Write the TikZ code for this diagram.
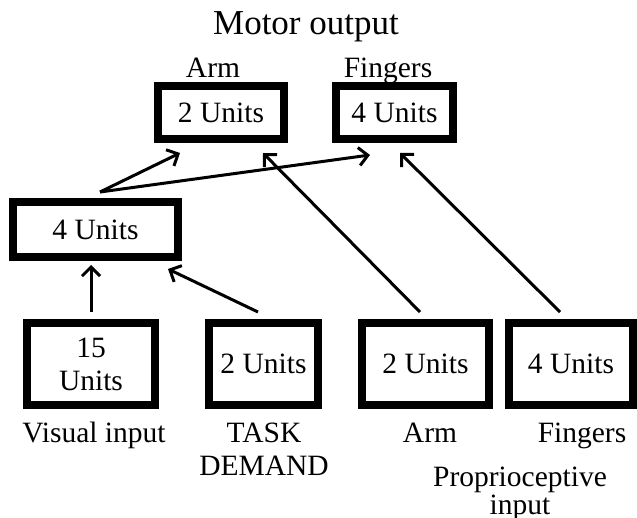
\documentclass[tikz,border=0pt]{standalone}
\usepackage{fontspec}
\setmainfont{Liberation Serif}
\usepackage{tikz}
\usetikzlibrary{positioning, arrows.meta}

\begin{document}
\begin{tikzpicture}[x=0.5pt, y=-0.5pt,
    unitbox/.style={draw, line width=4pt, inner sep=0pt, align=center,
        font=\fontsize{14.75}{16.5}\selectfont},
    caption/.style={align=center, inner sep=0pt, anchor=base,
        font=\fontsize{14.75}{16.5}\selectfont},
    link/.style={line width=1.5pt, -{Straight Barb[length=4.5pt, width=9pt]}}]
                \useasboundingbox (0, 0) rectangle (637, 518);
                % Nodes
                \node[unitbox, minimum width=63pt, minimum height=26.5pt] (armout) at (221, 112.5) {2 Units};
                \node[unitbox, minimum width=58.5pt, minimum height=26.5pt] (fingout) at (394.5, 112.5) {4 Units};
                \node[unitbox, minimum width=82.5pt, minimum height=27.5pt] (hidden) at (95.5, 229.5) {4 Units};
                \node[unitbox, minimum width=64pt, minimum height=41pt] (visual) at (91, 364) {15\\Units};
                \node[unitbox, minimum width=54.5pt, minimum height=41pt] (task) at (263.5, 364) {2 Units};
                \node[unitbox, minimum width=63.5pt, minimum height=41pt] (parm) at (425.5, 364) {2 Units};
                \node[unitbox, minimum width=62pt, minimum height=41pt] (pfing) at (571, 364) {4 Units};

                % Labels (placed by baseline of last line)
                \node[caption, font=\fontsize{17.5}{19}\selectfont] (motor) at (306, 35) {Motor output};
                \node[caption] (armlab) at (213, 78) {Arm};
                \node[caption] (finglab) at (388, 78) {Fingers};
                \node[caption] (vislab) at (94, 442) {Visual input};
                \node[caption] (tasklab) at (264, 475) {TASK\\DEMAND};
                \node[caption] (parmlab) at (430, 442) {Arm};
                \node[caption] (pfinglab) at (582, 442) {Fingers};
                \node[caption, font=\fontsize{14.75}{12}\selectfont] (proplab) at (520, 514) {Proprioceptive\\input};

                % Edges
                \draw[link] ([yshift=3.5pt]visual.north) -- ([yshift=-2pt]visual.north |- hidden.south);
                \draw[link] ([xshift=-2.75pt, yshift=3.5pt]task.north) -- ([xshift=-7pt, yshift=-4pt]hidden.south east);
                \draw[link] ([xshift=2.25pt, yshift=3pt]hidden.north) -- ([xshift=13pt, yshift=-5pt]armout.south west);
                \draw[link] ([xshift=2.25pt, yshift=3pt]hidden.north) -- ([xshift=19pt, yshift=-6pt]fingout.south west);
                \draw[link] ([xshift=-2.75pt, yshift=3.5pt]parm.north) -- ([xshift=-12.5pt, yshift=-5pt]armout.south east);
                \draw[link] ([xshift=-5.5pt, yshift=3.5pt]pfing.north) -- ([xshift=34pt, yshift=-5pt]fingout.south west);
            \end{tikzpicture}
\end{document}
